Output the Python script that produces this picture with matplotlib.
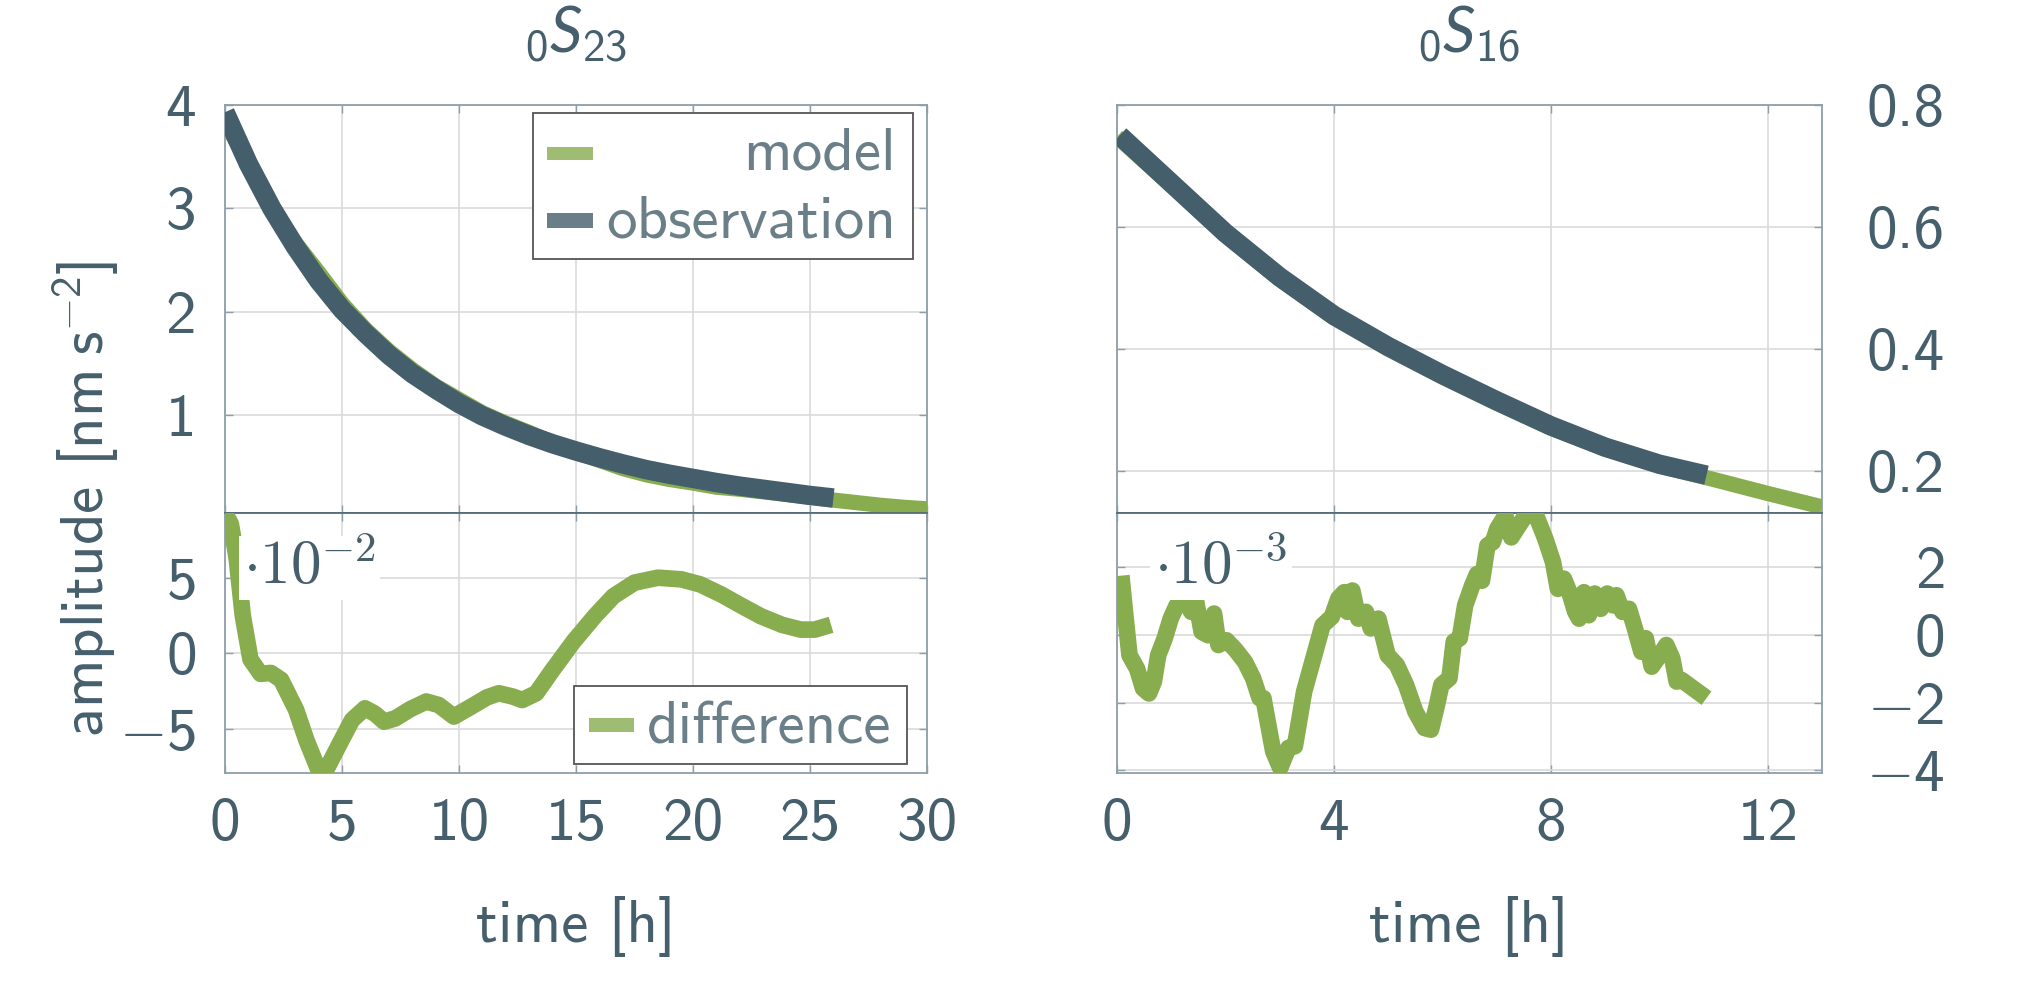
import numpy as np
import matplotlib
matplotlib.use("Agg")
import matplotlib.pyplot as plt
from matplotlib.patches import Rectangle

# ---------------- data ----------------
# left panel (0S23)
hours_obs_L = [0, 1, 2, 3, 4, 5, 6, 7, 8, 9, 10, 11, 12, 13, 14, 15, 16, 17, 18, 19,
               20, 21, 22, 23, 24, 25, 26]
obs_L = [3.93, 3.43, 3.00, 2.63, 2.30, 2.02, 1.79, 1.58, 1.40, 1.25, 1.11, 0.99, 0.89,
         0.80, 0.72, 0.65, 0.585, 0.525, 0.47, 0.425, 0.385, 0.345, 0.31, 0.28, 0.25,
         0.22, 0.195]
hours_model_L = [0, 1, 2, 3, 4, 5, 6, 7, 8, 9, 10, 11, 12, 13, 14, 15, 16, 17, 18, 19,
                 20, 21, 22, 23, 24, 25, 26, 27, 28, 29, 30]
model_L = [3.84, 3.43, 3.01, 2.67, 2.38, 2.08, 1.83, 1.62, 1.44, 1.28, 1.15, 1.02, 0.92,
           0.83, 0.73, 0.64, 0.56, 0.48, 0.42, 0.375, 0.34, 0.30, 0.28, 0.255, 0.23,
           0.205, 0.175, 0.15, 0.125, 0.105, 0.09]
hours_diff_L = [0.0, 0.25, 0.5, 0.76, 1.09, 1.52, 1.96, 2.4, 3.04, 3.48, 4.0, 4.35, 4.9,
                5.43, 5.98, 6.4, 6.8, 7.28, 7.9, 8.6, 9.13, 9.78, 10.4, 11.2, 11.7, 12.3,
                12.7, 13.3, 14.0, 14.9, 15.8, 16.6, 17.5, 18.5, 19.5, 20.3, 21.2, 22.1,
                22.9, 23.8, 24.6, 25.2, 25.9]
diff_L = [9.33, 8.6, 6.3, 2.5, -0.4, -1.36, -1.3, -1.76, -3.76, -5.77, -7.77, -7.66,
          -6.0, -4.43, -3.65, -4.0, -4.54, -4.32, -3.72, -3.2, -3.43, -4.2, -3.65, -2.92,
          -2.65, -2.87, -3.1, -2.65, -1.1, 0.8, 2.47, 3.8, 4.7, 5.03, 4.92, 4.59, 3.92,
          3.14, 2.47, 1.9, 1.58, 1.58, 1.9]   # x 1e-2

# right panel (0S16)
hours_obs_R = [0.05, 1, 2, 3, 4, 5, 6, 7, 8, 9, 10, 10.87]
obs_R = [0.750, 0.672, 0.590, 0.518, 0.455, 0.404, 0.358, 0.315, 0.274, 0.239, 0.211,
         0.193]
hours_model_R = [0, 1, 2, 3, 4, 5, 6, 7, 8, 9, 10, 11, 12, 13]
model_R = [0.748, 0.668, 0.586, 0.514, 0.451, 0.400, 0.354, 0.311, 0.270, 0.236, 0.208,
           0.186, 0.163, 0.141]
hours_diff_R = [0.08, 0.16, 0.23, 0.37, 0.48, 0.59, 0.68, 0.76, 0.88, 0.99, 1.1, 1.26,
                1.37, 1.45, 1.56, 1.68, 1.79, 1.87, 2.02, 2.19, 2.36, 2.51, 2.63, 2.7,
                2.79, 2.88, 3.01, 3.16, 3.28, 3.45, 3.62, 3.79, 3.96, 4.08, 4.19, 4.25,
                4.34, 4.45, 4.59, 4.68, 4.82, 4.99, 5.16, 5.33, 5.5, 5.67, 5.79, 5.9,
                5.98, 6.13, 6.21, 6.32, 6.42, 6.55, 6.64, 6.73, 6.83, 6.93, 7.01, 7.16,
                7.27, 7.39, 7.53, 7.73, 7.9, 8.04, 8.13, 8.24, 8.33, 8.45, 8.52, 8.61,
                8.7, 8.81, 8.92, 9.04, 9.15, 9.21, 9.32, 9.44, 9.55, 9.67, 9.75, 9.86,
                10.01, 10.13, 10.24, 10.32, 10.41, 10.58, 10.87]
diff_R = [1.75, 0.48, -0.6, -1.0, -1.58, -1.73, -1.38, -0.6, -0.1, 0.48, 0.87, 1.02,
          0.68, 1.07, 0.09, -0.01, 0.63, -0.3, -0.16, -0.45, -0.8, -1.28, -1.87, -1.87,
          -2.66, -3.44, -3.93, -3.34, -3.29, -1.68, -0.7, 0.28, 0.53, 1.07, 1.26, 0.68,
          1.31, 0.48, 0.68, 0.19, 0.48, -0.6, -0.89, -1.48, -2.26, -2.75, -2.8, -2.07,
          -1.48, -1.28, -0.2, -0.1, 0.87, 1.46, 1.8, 1.6, 2.64, 2.74, 3.13, 3.52, 2.88,
          3.18, 3.52, 3.52, 2.83, 2.15, 1.36, 1.66, 1.31, 0.68, 0.48, 1.26, 0.58, 1.22,
          0.77, 1.22, 0.87, 1.17, 0.68, 0.77, 0.19, -0.5, -0.1, -0.94, -0.6, -0.3, -0.7,
          -1.38, -1.33, -1.53, -1.87]   # x 1e-3

titles = [r"${}_0S_{23}$", r"${}_0S_{16}$"]
scale_labels = [r"$\cdot\mathtt{10}^{\mathtt{-2}}$", r"$\cdot\mathtt{10}^{\mathtt{-3}}$"]
xticks_L = [0, 5, 10, 15, 20, 25, 30]
xticks_R = [0, 4, 8, 12]
yticks_TL = [1, 2, 3, 4]
yticks_BL = [-5, 0, 5]
yticks_TR = [0.2, 0.4, 0.6, 0.8]
yticks_BR = [-4, -2, 0, 2]
yticklabels_BL = ["$-5$", "$0$", "$5$"]
yticklabels_BR = ["$-4$", "$-2$", "$0$", "$2$"]
yticklabels_TR = ["0.2", "0.4", "0.6", "0.8"]

# ---------------- style ----------------
plt.rcParams["font.family"] = ["cmss10", "DejaVu Sans"]
plt.rcParams["mathtext.fontset"] = "custom"
plt.rcParams["mathtext.rm"] = "cmss10"
plt.rcParams["mathtext.it"] = "Lato:italic"
plt.rcParams["mathtext.tt"] = "cmr10"
plt.rcParams["axes.unicode_minus"] = True

TEXT = "#465f6c"
OBS = "#455e6b"
GREEN = "#87ad4f"
SPINE = "#8d9ea8"
SPINE_DARK = "#556c78"
GRID = "#dadada"
FS = 44

W, H = 2020, 981
fig = plt.figure(figsize=(W / 100, H / 100), dpi=100)


def box(x0, y0, x1, y1):
    return [x0 / W, 1 - y1 / H, (x1 - x0) / W, (y1 - y0) / H]


def fx(x):
    return x / W


def fy(y):
    return 1 - y / H


axTL = fig.add_axes(box(225, 105, 927, 513))
axBL = fig.add_axes(box(225, 513, 927, 773))
axTR = fig.add_axes(box(1117, 105, 1822, 513))
axBR = fig.add_axes(box(1117, 513, 1822, 773))

for ax in (axTL, axBL, axTR, axBR):
    ax.set_axisbelow(True)
    ax.grid(True, color=GRID, lw=1.2)
    for s in ax.spines.values():
        s.set_color(SPINE)
        s.set_linewidth(1.3)
    ax.tick_params(direction="in", length=6, width=1.0, color=SPINE,
                   labelcolor=TEXT, labelsize=FS, top=True, right=True,
                   bottom=True, left=True)

for ax in (axTL, axTR):
    ax.spines["bottom"].set_color(SPINE_DARK)
    ax.tick_params(labelbottom=False)
for ax in (axBL, axBR):
    ax.spines["top"].set_color(SPINE_DARK)

LW_MODEL, LW_OBS, LW_DIFF = 11, 14, 12

# ---- left top ----
axTL.plot(hours_model_L, model_L, color=GREEN, lw=LW_MODEL, solid_capstyle="butt",
          solid_joinstyle="round", zorder=3)
axTL.plot(hours_obs_L, obs_L, color=OBS, lw=LW_OBS, solid_capstyle="butt",
          solid_joinstyle="round", zorder=4)
axTL.set_xlim(0, 30)
axTL.set_ylim(0.05, 4.0)
axTL.set_xticks(xticks_L)
axTL.set_yticks(yticks_TL)
axTL.tick_params(axis="y", pad=21)

# ---- left bottom ----
axBL.plot(hours_diff_L, diff_L, color=GREEN, lw=LW_DIFF, solid_capstyle="butt",
          solid_joinstyle="round", zorder=4)
axBL.set_xlim(0, 30)
axBL.set_ylim(-7.95, 9.33)
axBL.set_xticks(xticks_L)
axBL.set_xticklabels([str(v) for v in xticks_L])
axBL.set_yticks(yticks_BL)
axBL.set_yticklabels(yticklabels_BL)
axBL.tick_params(axis="y", pad=21)
axBL.tick_params(axis="x", pad=18)

# ---- right top ----
axTR.plot(hours_model_R, model_R, color=GREEN, lw=LW_MODEL, solid_capstyle="butt",
          solid_joinstyle="round", zorder=3)
axTR.plot(hours_obs_R, obs_R, color=OBS, lw=LW_OBS, solid_capstyle="butt",
          solid_joinstyle="round", zorder=4)
axTR.set_xlim(0, 13.0)
axTR.set_ylim(0.131, 0.8)
axTR.set_xticks(xticks_R)
axTR.set_yticks(yticks_TR)
axTR.set_yticklabels(yticklabels_TR)

# ---- right bottom ----
axBR.plot(hours_diff_R, diff_R, color=GREEN, lw=LW_DIFF, solid_capstyle="butt",
          solid_joinstyle="round", zorder=4)
axBR.set_xlim(0, 13.0)
axBR.set_ylim(-4.08, 3.6)
axBR.set_xticks(xticks_R)
axBR.set_xticklabels([str(v) for v in xticks_R])
axBR.set_yticks(yticks_BR)
axBR.set_yticklabels(yticklabels_BR)
axBR.tick_params(axis="x", pad=18)

for ax in (axTR, axBR):
    ax.tick_params(axis="y", labelleft=False, labelright=True, pad=88)
    for lbl in ax.get_yticklabels():
        lbl.set_ha("right")

# ---- titles, labels ----
fig.text(fx(576), fy(53), titles[0], ha="center", va="baseline", fontsize=FS + 2,
         color=TEXT)
fig.text(fx(1469), fy(53), titles[1], ha="center", va="baseline", fontsize=FS + 2,
         color=TEXT)
fig.text(fx(576), fy(942), "time [h]", ha="center", va="baseline", fontsize=FS, color=TEXT)
fig.text(fx(1469), fy(942), "time [h]", ha="center", va="baseline", fontsize=FS, color=TEXT)
fig.text(fx(86), fy(499), r"amplitude [nm$\;$s$^{-2}$]", ha="center", va="center",
         rotation=90, fontsize=FS, color=TEXT)

# scale labels
for ax, lab, x in ((axBL, scale_labels[0], 243), (axBR, scale_labels[1], 1154)):
    t = fig.text(fx(x), fy(584), lab, ha="left", va="baseline", fontsize=FS, color=TEXT,
                 zorder=2)
    t.set_bbox(dict(facecolor="white", edgecolor="none", pad=3))

# ---- legends (manual, right-aligned text as in original) ----
def legend_box(x0, y0, x1, y1):
    fig.add_artist(Rectangle((fx(x0), fy(y1)), (x1 - x0) / W, (y1 - y0) / H,
                             transform=fig.transFigure, facecolor="white",
                             edgecolor="#555555", lw=1.3, zorder=10))


def legend_patch(x0, x1, yc, color, h=13):
    fig.add_artist(Rectangle((fx(x0), fy(yc + h / 2)), (x1 - x0) / W, h / H,
                             transform=fig.transFigure, facecolor=color,
                             edgecolor="none", alpha=0.8, zorder=11))


legend_box(533, 113, 913, 259)
legend_patch(547, 593, 153, GREEN)
legend_patch(547, 593, 220, OBS, h=15)
fig.text(fx(896), fy(170), "model", ha="right", va="baseline", fontsize=FS, color=TEXT,
         alpha=0.8, zorder=12)
fig.text(fx(896), fy(237), "observation", ha="right", va="baseline", fontsize=FS,
         color=TEXT, alpha=0.8, zorder=12)

legend_box(574, 686, 907, 764)
legend_patch(589, 634, 725, GREEN, h=14)
fig.text(fx(647), fy(743), "difference", ha="left", va="baseline", fontsize=FS,
         color=TEXT, alpha=0.8, zorder=12)

fig.savefig("out.png", dpi=100, facecolor="white")
